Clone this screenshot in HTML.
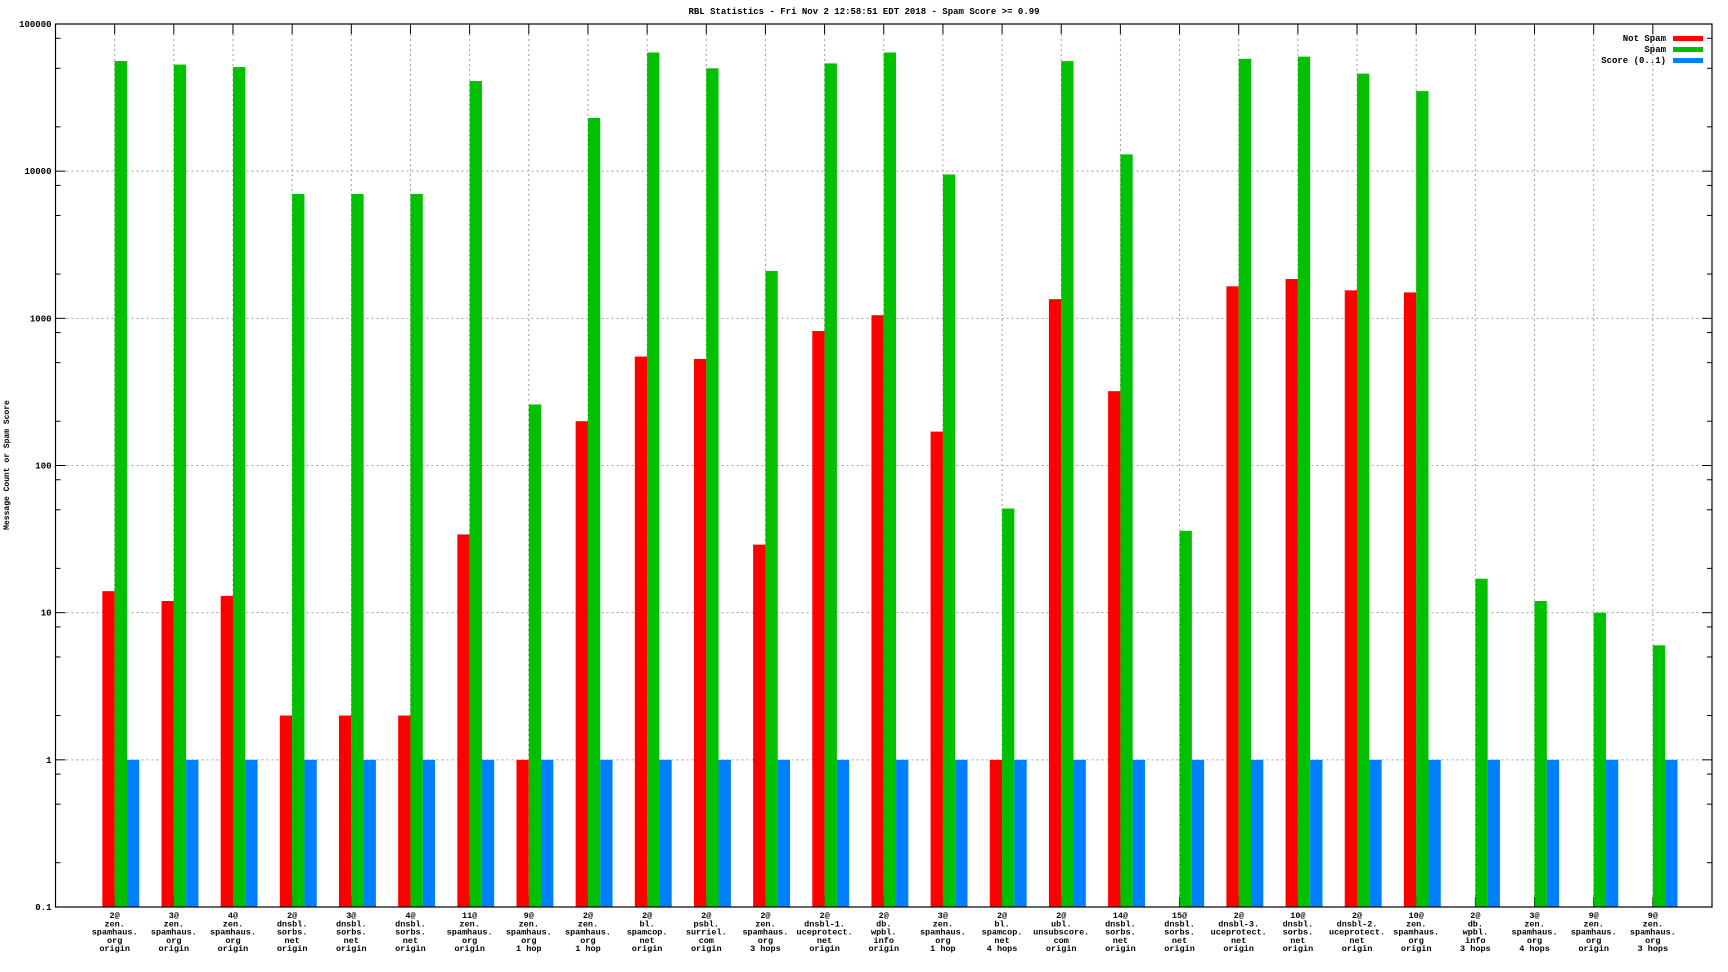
<!DOCTYPE html>
<html><head><meta charset="utf-8"><style>
html,body{margin:0;padding:0;background:#fff;}
svg{display:block;font-family:"Liberation Mono",monospace;}
</style></head><body>
<svg id="chart" width="1728" height="972" xmlns="http://www.w3.org/2000/svg"></svg>
<script>
const categories = [
["2@","zen.","spamhaus.","org","origin"],["3@","zen.","spamhaus.","org","origin"],["4@","zen.","spamhaus.","org","origin"],
["2@","dnsbl.","sorbs.","net","origin"],["3@","dnsbl.","sorbs.","net","origin"],["4@","dnsbl.","sorbs.","net","origin"],
["11@","zen.","spamhaus.","org","origin"],["9@","zen.","spamhaus.","org","1 hop"],["2@","zen.","spamhaus.","org","1 hop"],
["2@","bl.","spamcop.","net","origin"],["2@","psbl.","surriel.","com","origin"],["2@","zen.","spamhaus.","org","3 hops"],
["2@","dnsbl-1.","uceprotect.","net","origin"],["2@","db.","wpbl.","info","origin"],["3@","zen.","spamhaus.","org","1 hop"],
["2@","bl.","spamcop.","net","4 hops"],["2@","ubl.","unsubscore.","com","origin"],["14@","dnsbl.","sorbs.","net","origin"],
["15@","dnsbl.","sorbs.","net","origin"],["2@","dnsbl-3.","uceprotect.","net","origin"],["10@","dnsbl.","sorbs.","net","origin"],
["2@","dnsbl-2.","uceprotect.","net","origin"],["10@","zen.","spamhaus.","org","origin"],["2@","db.","wpbl.","info","3 hops"],
["3@","zen.","spamhaus.","org","4 hops"],["9@","zen.","spamhaus.","org","origin"],["9@","zen.","spamhaus.","org","3 hops"]];
const notSpam = [14,12,13,2,2,2,34,1,200,550,530,29,820,1050,170,1,1350,320,0,1650,1850,1550,1500,0,0,0,0];
const spam = [56000,53000,51000,7000,7000,7000,41000,260,23000,64000,50000,2100,54000,64000,9500,51,56000,13000,36,58000,60000,46000,35000,17,12,10,6];
const score = [1,1,1,1,1,1,1,1,1,1,1,1,1,1,1,1,1,1,1,1,1,1,1,1,1,1,1];
const yTicks = [0.1,1,10,100,1000,10000,100000];
const yTickLabels = ["0.1","1","10","100","1000","10000","100000"];

const NS="http://www.w3.org/2000/svg";
const svg=document.getElementById('chart');
const L=55.5,R=1712,T=24,B=907;
const yMin=0.1,yMax=100000;
function y(v){return B-(Math.log10(v)-Math.log10(yMin))/(Math.log10(yMax)-Math.log10(yMin))*(B-T);}
const step=(R-L)/(categories.length+1);
function x(i){return L+(i+1)*step;}
function mk(tag,attrs,parent){const e=document.createElementNS(NS,tag);for(const k in attrs)e.setAttribute(k,attrs[k]);(parent||svg).appendChild(e);return e;}

let t=mk('text',{x:864,y:14,'text-anchor':'middle','font-size':9,'font-weight':'bold'});
t.textContent="RBL Statistics - Fri Nov  2 12:58:51 EDT 2018 - Spam Score >= 0.99";


t=mk('text',{x:0,y:0,transform:'translate(9,465) rotate(-90)','text-anchor':'middle','font-size':8,'font-weight':'bold'});
t.textContent="Message Count or Spam Score";



// grid
yTicks.forEach((v,k)=>{
  const yy=y(v);
  if(k>0&&k<yTicks.length-1){const g=mk('line',{x1:L+11,x2:R-11,y1:yy,y2:yy,stroke:'#a0a0a0','stroke-dasharray':'2,3'});
  
  }
  mk('line',{x1:L,x2:L+10,y1:yy,y2:yy,stroke:'#000'});
  mk('line',{x1:R-10,x2:R,y1:yy,y2:yy,stroke:'#000'});
  const lb=mk('text',{x:L-4,y:yy+3,'text-anchor':'end','font-size':9,'font-weight':'bold'});
  lb.textContent=yTickLabels[k];
  
  
  if(k<yTicks.length-1){[2,5,8].forEach(m=>{const my=y(v*m);mk('line',{x1:L,x2:L+5,y1:my,y2:my,stroke:'#000'});mk('line',{x1:R-5,x2:R,y1:my,y2:my,stroke:'#000'});});}
});
categories.forEach((c,i)=>{
  const xx=x(i);
  const g=mk('line',{x1:xx,x2:xx,y1:T+10,y2:B-10,stroke:'#a0a0a0','stroke-dasharray':'2,3'});
  
  
  mk('line',{x1:xx,x2:xx,y1:T,y2:T+10,stroke:'#000'});
  mk('line',{x1:xx,x2:xx,y1:B-10,y2:B,stroke:'#000'});
});
// bars
const bw=12.3;
const series=[[notSpam,'#ff0000',-bw,'bar-not-spam'],[spam,'#00c000',0,'bar-spam'],[score,'#0080ff',bw,'bar-score']];
categories.forEach((c,i)=>{
  series.forEach(s=>{
    const v=s[0][i]; if(!(v>0))return;
    const top=y(v);
    const r=mk('rect',{x:x(i)+s[2],y:top,width:bw,height:B-top,fill:s[1]});
    
    
  });
  const lt=mk('text',{x:x(i),y:918,'text-anchor':'middle','font-size':8.5,'font-weight':'bold'});
  
  
  c.forEach((line,j)=>{const ts=mk('tspan',{x:x(i),dy:j?8.3:0},lt);ts.textContent=line;});
});
mk('rect',{x:L,y:T,width:R-L,height:B-T,fill:'none',stroke:'#000','stroke-width':1.2});
// legend
[["Not Spam",'#ff0000'],["Spam",'#00c000'],["Score (0..1)",'#0080ff']].forEach((e,k)=>{
  const yy=38+k*11;
  const lt=mk('text',{x:1666,y:yy+3,'text-anchor':'end','font-size':9,'font-weight':'bold'});
  lt.textContent=e[0];
  
  
  const r=mk('rect',{x:1673,y:yy-2,width:30,height:5,fill:e[1]});
  
  
});
</script>
</body></html>
